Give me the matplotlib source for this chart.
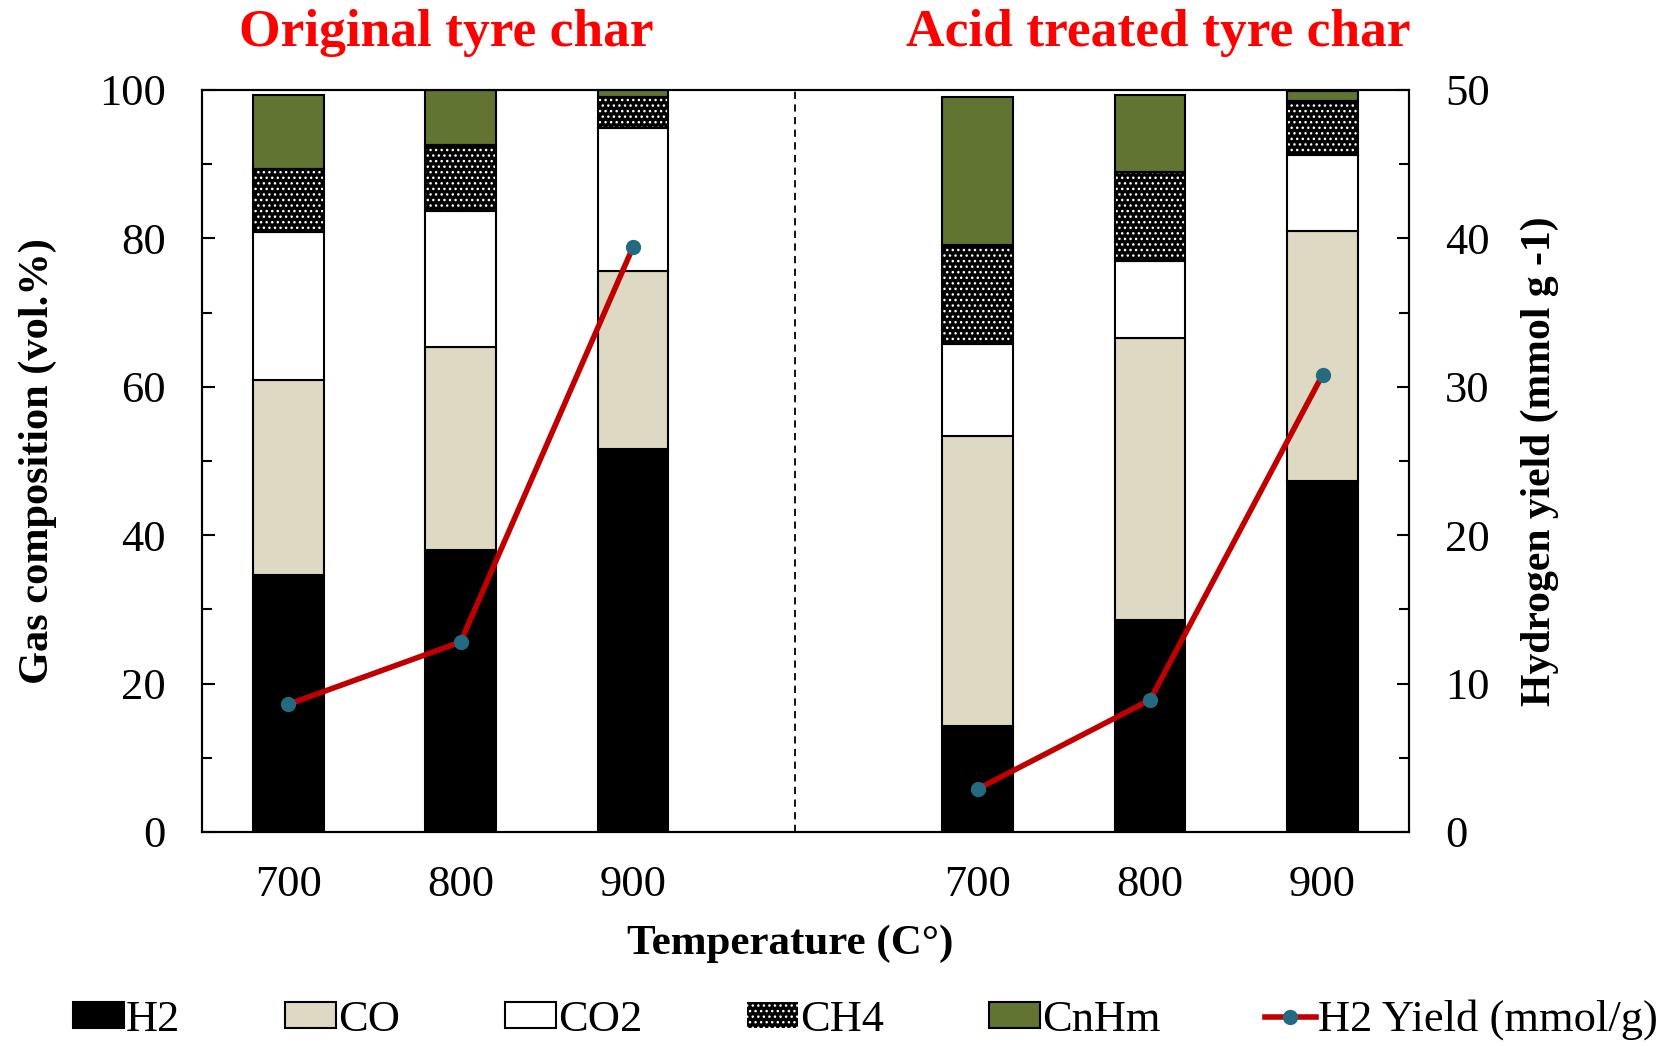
import numpy as np
import matplotlib
matplotlib.use("Agg")
from matplotlib import pyplot as plt
from matplotlib.patches import Patch
from matplotlib.lines import Line2D

plt.rcParams['font.family'] = ['Liberation Serif', 'DejaVu Serif']

# data
temps = ['700', '800', '900', '700', '800', '900']
groups = ['Original tyre char', 'Acid treated tyre char']
h2 = [34.7, 38.0, 51.6, 14.3, 28.6, 47.3]
co = [26.2, 27.3, 24.0, 39.1, 38.0, 33.7]
co2 = [20.0, 18.4, 19.3, 12.3, 10.4, 10.3]
ch4 = [8.5, 8.9, 4.1, 13.4, 12.0, 7.2]
cnhm = [9.9, 7.4, 1.0, 19.9, 10.3, 1.4]
h2_yield = [8.6, 12.8, 39.4, 2.9, 8.9, 30.8]

x = np.array([0, 1, 2, 4, 5, 6])
width = 0.41

fig = plt.figure(figsize=(16.61, 10.46), dpi=100)
ax = fig.add_axes([0.1216, 0.2046, 0.7265, 0.7094])

bottom = np.zeros(len(x))
layers = [
    ('H2', h2, 'black', None),
    ('CO', co, '#DDD9C3', None),
    ('CO2', co2, 'white', None),
    ('CH4', ch4, 'black', '...'),
    ('CnHm', cnhm, '#617431', None),
]
handles = []
for name, vals, color, hatch in layers:
    vals = np.array(vals)
    if hatch:
        # white dots on black: hatch takes the edge colour, so outline separately
        ax.bar(x, vals, width, bottom=bottom, color=color, edgecolor='white',
               hatch=hatch, linewidth=0, zorder=2)
        ax.bar(x, vals, width, bottom=bottom, fill=False, edgecolor='black',
               linewidth=1.5, zorder=3)
        handles.append(Patch(facecolor=color, edgecolor='white', hatch=hatch,
                             linewidth=0, label=name))
    else:
        ax.bar(x, vals, width, bottom=bottom, color=color, edgecolor='black',
               linewidth=1.5, zorder=2)
        handles.append(Patch(facecolor=color, edgecolor='black', linewidth=1.5,
                             label=name))
    bottom += vals

ax.axvline(2.94, color='black', linestyle=(0, (4, 3)), linewidth=1.3, zorder=1)

ax.set_xlim(-0.5, 6.5)
ax.set_ylim(0, 100)
ax.set_yticks(np.arange(0, 101, 20))
ax.set_yticks(np.arange(10, 100, 20), minor=True)
ax.set_xticks(x)
ax.set_xticklabels(temps)
ax.tick_params(axis='x', length=0, pad=24, labelsize=32)
ax.tick_params(axis='y', which='major', direction='in', length=9, width=1.5,
               pad=26, labelsize=32)
ax.tick_params(axis='y', which='minor', direction='in', length=7, width=1.5)
for s in ax.spines.values():
    s.set_linewidth(1.5)

ax.set_ylabel('Gas composition (vol.%)', fontsize=30.5, fontweight='bold',
              labelpad=30)

ax2 = ax.twinx()
ax2.set_ylim(0, 50)
ax2.set_yticks(np.arange(0, 51, 10))
ax2.set_yticks(np.arange(5, 50, 10), minor=True)
ax2.tick_params(axis='y', which='major', direction='in', length=9, width=1.5,
                pad=26, labelsize=32)
ax2.tick_params(axis='y', which='minor', direction='in', length=7, width=1.5)
for s in ax2.spines.values():
    s.set_linewidth(1.5)
ax2.set_ylabel('Hydrogen yield (mmol g -1)', fontsize=30, fontweight='bold',
               labelpad=22)

line_kw = dict(color='#C00000', linewidth=4, marker='o', markersize=10,
               markerfacecolor='#246A80', markeredgecolor='#246A80')
for sl in (slice(0, 3), slice(3, 6)):
    ax2.plot(x[sl], h2_yield[sl], zorder=4, **line_kw)
handles.append(Line2D([], [], label='H2 Yield (mmol/g)', **line_kw))

for gx, label in zip([0.92, 5.05], groups):
    ax.text(gx, 1.045, label, transform=ax.get_xaxis_transform(), color='red',
            fontsize=38.5, fontweight='bold', ha='center', va='bottom')

fig.text(0.476, 0.098, 'Temperature (C°)', fontsize=31, fontweight='bold',
         ha='center', va='center')

fig.legend(handles=handles, loc='center', bbox_to_anchor=(0.521, 0.025),
           ncol=6, frameon=False, fontsize=32, handlelength=1.15,
           handleheight=0.5, handletextpad=0.05, columnspacing=2.35)

fig.savefig('out.png', dpi=100)
